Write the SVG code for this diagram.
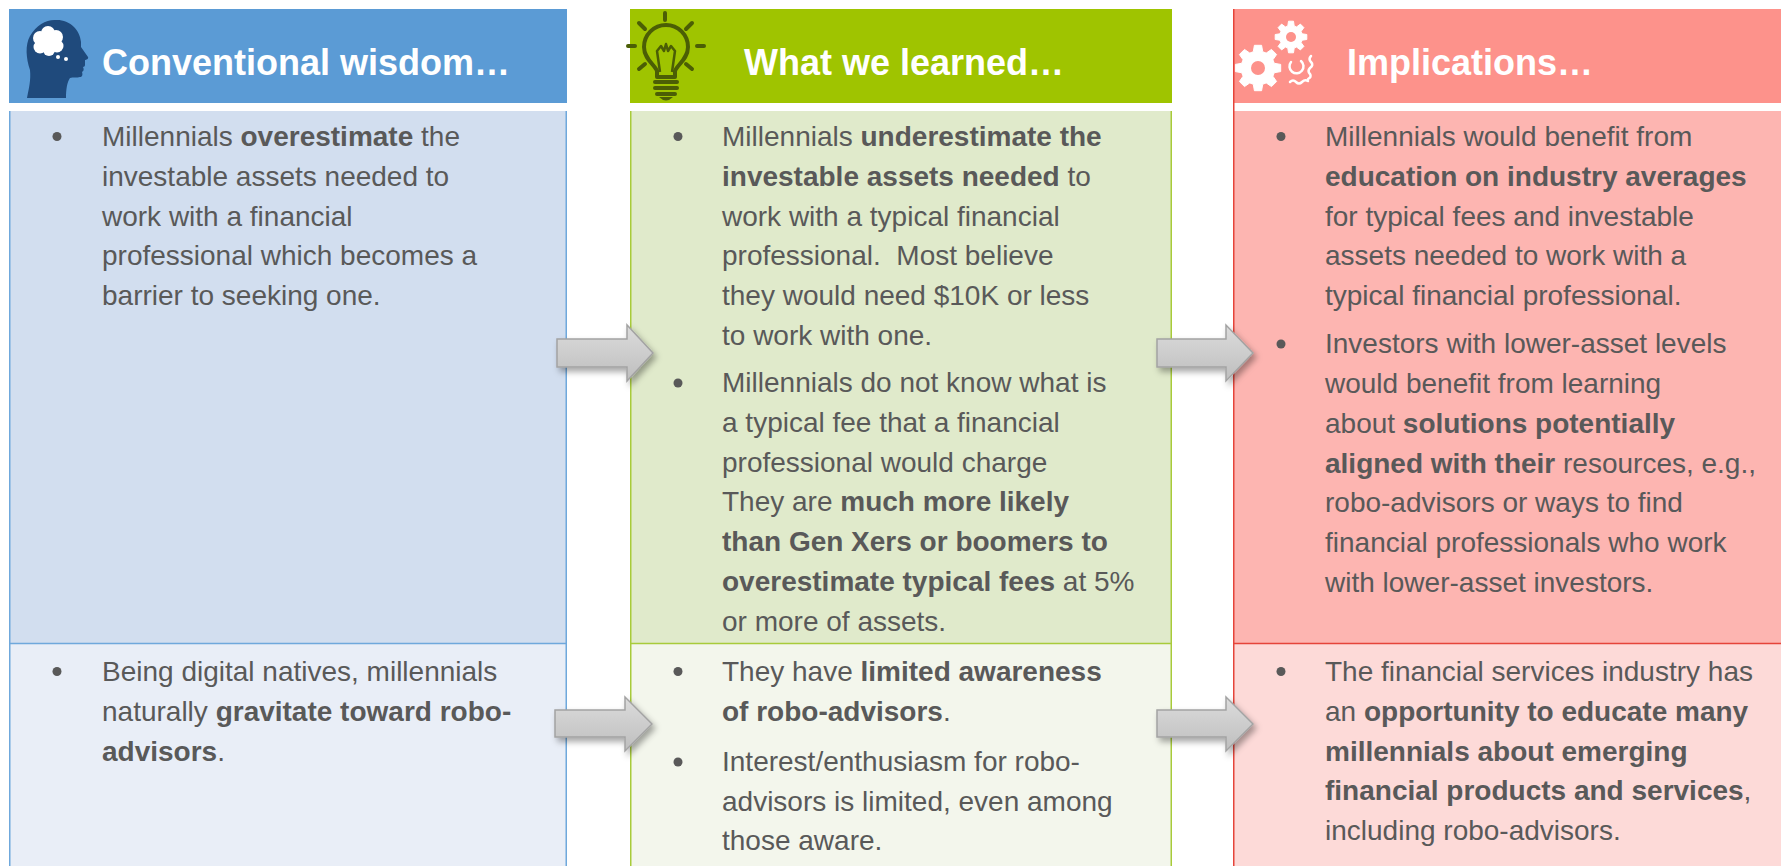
<svg xmlns="http://www.w3.org/2000/svg" width="1781" height="866" viewBox="0 0 1781 866">
<style>
.t{font-family:'Liberation Sans',Arial,sans-serif;font-size:28px;fill:#595959}
.b{font-weight:bold}
.h{font-family:'Liberation Sans',Arial,sans-serif;font-size:36px;font-weight:bold;fill:#FFFFFF}
.dot{fill:#595959}
.arrow{fill:url(#ag);stroke:#A3A3A3;stroke-width:1.5;filter:url(#sh)}
.ray{stroke:#4B5E05;stroke-width:4;stroke-linecap:round;fill:none}
</style>
<defs>
<linearGradient id="ag" x1="0" y1="0" x2="0" y2="1">
<stop offset="0" stop-color="#DCDCDC"/>
<stop offset="1" stop-color="#BEBEBE"/>
</linearGradient>
<filter id="sh" x="-20%" y="-30%" width="150%" height="170%">
<feDropShadow dx="3" dy="4" stdDeviation="3" flood-color="#000" flood-opacity="0.35"/>
</filter>
</defs>
<rect width="1781" height="866" fill="#FFFFFF"/>

<g id="col1-header">
<rect x="9" y="9" width="558" height="94" fill="#5B9BD5"/>
<path d="M27,98 C29,88 31,80 30,70 C26,58 25,45 30,36 C37,24 47,19 57,20 C70,20 80,30 81,42 L81,47 L88,57 C89,59 86,60 85,60 L85,65 C85,66 84,67 83,67 C84,69 84,71 82,72 C83,75 82,77 80,77 C77,78 73,77 70,78 C67,82 66,90 66,98 Z" fill="#1F4A7C"/>
<g fill="#FFFFFF">
<circle cx="40" cy="38" r="7"/><circle cx="48" cy="33" r="7"/><circle cx="56" cy="37" r="7"/><circle cx="57" cy="46" r="6.5"/><circle cx="49" cy="50" r="6"/><circle cx="40" cy="47" r="6.5"/><circle cx="48" cy="42" r="9"/>
<circle cx="58" cy="57" r="2"/><circle cx="66" cy="59" r="2"/>
</g>
<text class="h" x="102" y="75">Conventional wisdom…</text>
</g>

<g id="col1-top">
<rect x="9" y="111" width="558" height="532" fill="#D2DEEF"/>
<path d="M9.75,111 V643 M566.25,111 V643" stroke="#6FA8DC" stroke-width="1.5"/>
<circle class="dot" cx="57" cy="136.5" r="4.5"/>
<text class="t" x="102" y="146">Millennials <tspan class="b">overestimate</tspan> the</text>
<text class="t" x="102" y="186">investable assets needed to</text>
<text class="t" x="102" y="226">work with a financial</text>
<text class="t" x="102" y="265">professional which becomes a</text>
<text class="t" x="102" y="305">barrier to seeking one.</text>
</g>

<g id="col1-bottom">
<rect x="9" y="643" width="558" height="223" fill="#E9EEF7"/>
<path d="M9.75,643 V866 M566.25,643 V866 M9,643.5 H567" stroke="#6FA8DC" stroke-width="1.5"/>
<circle class="dot" cx="57" cy="671.5" r="4.5"/>
<text class="t" x="102" y="681">Being digital natives, millennials</text>
<text class="t" x="102" y="721">naturally <tspan class="b">gravitate toward robo-</tspan></text>
<text class="t" x="102" y="761"><tspan class="b">advisors</tspan>.</text>
</g>

<g id="col2-header">
<rect x="630" y="9" width="542" height="94" fill="#9FC400"/>
<path class="ray" d="M665,13 V20 M639,23 L645,29 M692,23 L686,29 M628,46 H635 M697,46 H704 M639,69 L645,64 M692,69 L686,64"/>
<path d="M657,77 L657,71 C655,65 644,59 644,47 A21.5,21.5 0 1 1 688,47 C688,59 677,65 675,71 L675,77 Z" fill="none" stroke="#4B5E05" stroke-width="4" stroke-linejoin="round"/>
<path d="M660,72 L657,51 L661,46 L664,51 L666,44 L668,51 L671,46 L675,51 L672,72" fill="none" stroke="#4B5E05" stroke-width="2.5" stroke-linejoin="round"/>
<path class="ray" d="M655,82 H677 M655,88 H677 M657,94 H675"/>
<path d="M659,97 Q666,104 673,97 Z" fill="#4B5E05"/>
<text class="h" x="744" y="75">What we learned…</text>
</g>

<g id="col2-top">
<rect x="630" y="111" width="542" height="532" fill="#E0EACB"/>
<path d="M630.75,111 V643 M1171.25,111 V643" stroke="#A8CB3A" stroke-width="1.5"/>
<circle class="dot" cx="678" cy="136.5" r="4.5"/>
<text class="t" x="722" y="146">Millennials <tspan class="b">underestimate the</tspan></text>
<text class="t" x="722" y="186"><tspan class="b">investable assets needed</tspan> to</text>
<text class="t" x="722" y="226">work with a typical financial</text>
<text class="t" x="722" y="265">professional.&#160; Most believe</text>
<text class="t" x="722" y="305">they would need $10K or less</text>
<text class="t" x="722" y="345">to work with one.</text>
<circle class="dot" cx="678" cy="383" r="4.5"/>
<text class="t" x="722" y="392">Millennials do not know what is</text>
<text class="t" x="722" y="432">a typical fee that a financial</text>
<text class="t" x="722" y="472">professional would charge</text>
<text class="t" x="722" y="511">They are <tspan class="b">much more likely</tspan></text>
<text class="t" x="722" y="551"><tspan class="b">than Gen Xers or boomers to</tspan></text>
<text class="t" x="722" y="591"><tspan class="b">overestimate typical fees</tspan> at 5%</text>
<text class="t" x="722" y="631">or more of assets.</text>
</g>

<g id="col2-bottom">
<rect x="630" y="643" width="542" height="223" fill="#F3F6EC"/>
<path d="M630.75,643 V866 M1171.25,643 V866 M630,643.5 H1172" stroke="#A8CB3A" stroke-width="1.5"/>
<circle class="dot" cx="678" cy="671.5" r="4.5"/>
<text class="t" x="722" y="681">They have <tspan class="b">limited awareness</tspan></text>
<text class="t" x="722" y="721"><tspan class="b">of robo-advisors</tspan>.</text>
<circle class="dot" cx="678" cy="762" r="4.5"/>
<text class="t" x="722" y="771">Interest/enthusiasm for robo-</text>
<text class="t" x="722" y="811">advisors is limited, even among</text>
<text class="t" x="722" y="850">those aware.</text>
</g>

<g id="col3-header">
<rect x="1233" y="9" width="548" height="94" fill="#FD928B"/>
<path d="M1274.3,63.3 L1280.7,64.4 L1280.7,71.6 L1274.3,72.7 L1272.9,76.2 L1276.6,81.5 L1271.5,86.6 L1266.2,82.9 L1262.7,84.3 L1261.6,90.7 L1254.4,90.7 L1253.3,84.3 L1249.8,82.9 L1244.5,86.6 L1239.4,81.5 L1243.1,76.2 L1241.7,72.7 L1235.3,71.6 L1235.3,64.4 L1241.7,63.3 L1243.1,59.8 L1239.4,54.5 L1244.5,49.4 L1249.8,53.1 L1253.3,51.7 L1254.4,45.3 L1261.6,45.3 L1262.7,51.7 L1266.2,53.1 L1271.5,49.4 L1276.6,54.5 L1272.9,59.8 Z" fill="#FFFFFF" stroke="#FFFFFF" stroke-width="1" stroke-linejoin="round"/>
<circle cx="1258" cy="68" r="7" fill="#FD928B"/>
<path d="M1302.1,33.8 L1306.8,34.5 L1306.8,39.5 L1302.1,40.2 L1301.1,42.6 L1303.9,46.4 L1300.4,49.9 L1296.6,47.1 L1294.2,48.1 L1293.5,52.8 L1288.5,52.8 L1287.8,48.1 L1285.4,47.1 L1281.6,49.9 L1278.1,46.4 L1280.9,42.6 L1279.9,40.2 L1275.2,39.5 L1275.2,34.5 L1279.9,33.8 L1280.9,31.4 L1278.1,27.6 L1281.6,24.1 L1285.4,26.9 L1287.8,25.9 L1288.5,21.2 L1293.5,21.2 L1294.2,25.9 L1296.6,26.9 L1300.4,24.1 L1303.9,27.6 L1301.1,31.4 Z" fill="#FFFFFF" stroke="#FFFFFF" stroke-width="1" stroke-linejoin="round"/>
<circle cx="1291" cy="37" r="5" fill="#FD928B"/>
<path d="M1291,62 A7,7 0 1 0 1301,61" fill="none" stroke="#FFFFFF" stroke-width="2.5" stroke-linecap="round"/>
<path d="M1311,56 Q1308,59 1311,62 Q1314,65 1310,68 Q1307,71 1310,74 Q1312,77 1308,79" fill="none" stroke="#FFFFFF" stroke-width="2.5" stroke-linecap="round"/>
<path d="M1290,82 Q1293,79 1296,82 Q1299,85 1302,82 Q1305,79 1308,81" fill="none" stroke="#FFFFFF" stroke-width="2.5" stroke-linecap="round"/>
<text class="h" x="1347" y="75">Implications…</text>
</g>

<g id="col3-top">
<rect x="1233" y="111" width="548" height="532" fill="#FDB5B1"/>
<path d="M1233.75,9 V643" stroke="#E5443A" stroke-width="1.5"/>
<circle class="dot" cx="1281" cy="136.5" r="4.5"/>
<text class="t" x="1325" y="146">Millennials would benefit from</text>
<text class="t" x="1325" y="186"><tspan class="b">education on industry averages</tspan></text>
<text class="t" x="1325" y="226">for typical fees and investable</text>
<text class="t" x="1325" y="265">assets needed to work with a</text>
<text class="t" x="1325" y="305">typical financial professional.</text>
<circle class="dot" cx="1281" cy="344" r="4.5"/>
<text class="t" x="1325" y="353">Investors with lower-asset levels</text>
<text class="t" x="1325" y="393">would benefit from learning</text>
<text class="t" x="1325" y="433">about <tspan class="b">solutions potentially</tspan></text>
<text class="t" x="1325" y="473"><tspan class="b">aligned with their</tspan> resources, e.g.,</text>
<text class="t" x="1325" y="512">robo-advisors or ways to find</text>
<text class="t" x="1325" y="552">financial professionals who work</text>
<text class="t" x="1325" y="592">with lower-asset investors.</text>
</g>

<g id="col3-bottom">
<rect x="1233" y="643" width="548" height="223" fill="#FDDAD8"/>
<path d="M1233.75,643 V866 M1233,643.5 H1781" stroke="#E5443A" stroke-width="1.5"/>
<circle class="dot" cx="1281" cy="671.5" r="4.5"/>
<text class="t" x="1325" y="681">The financial services industry has</text>
<text class="t" x="1325" y="721">an <tspan class="b">opportunity to educate many</tspan></text>
<text class="t" x="1325" y="761"><tspan class="b">millennials about emerging</tspan></text>
<text class="t" x="1325" y="800"><tspan class="b">financial products and services</tspan>,</text>
<text class="t" x="1325" y="840">including robo-advisors.</text>
</g>

<g id="connectors">
<polygon class="arrow" points="557,339 627,339 627,325 653,353 627,381 627,367 557,367"/>
<polygon class="arrow" points="1157,339 1226,339 1226,325 1253,353 1226,381 1226,367 1157,367"/>
<polygon class="arrow" points="555,710 625,710 625,697 652,724 625,751 625,737 555,737"/>
<polygon class="arrow" points="1157,710 1226,710 1226,697 1253,724 1226,751 1226,737 1157,737"/>
</g>
</svg>
